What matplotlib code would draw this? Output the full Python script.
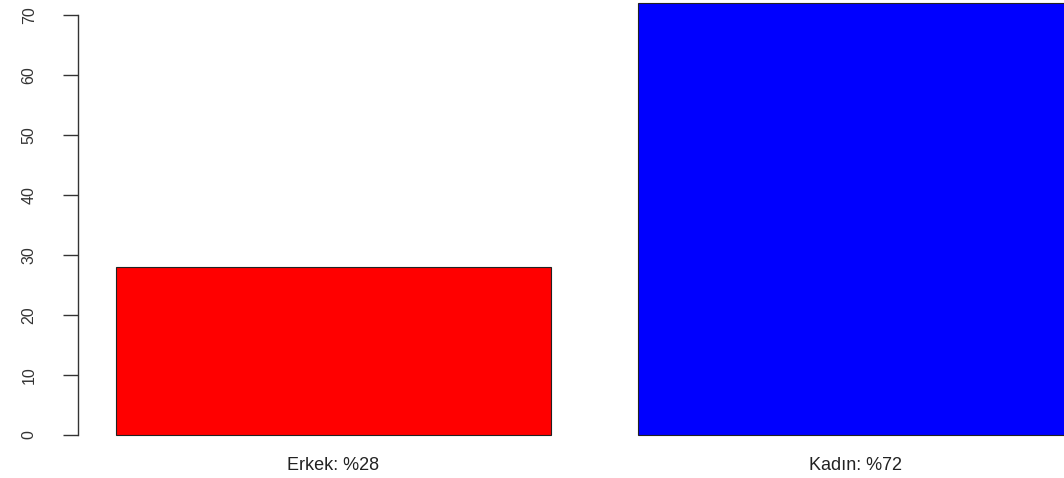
import matplotlib.pyplot as plt

# bar data (R barplot style)
labels = ["Erkek: %28", "Kadın: %72"]
values = [28, 72]
colors = ["#ff0000", "#0000ff"]
yticks = [0, 10, 20, 30, 40, 50, 60, 70]

W, H = 1064, 478
fig = plt.figure(figsize=(W / 100, H / 100), dpi=100)
plt.rcParams['font.family'] = ['Liberation Sans', 'DejaVu Sans']

# plot region in pixels (it runs past the right and top of the image)
left_px, right_px = 77.7, 1111
bottom_px, top_px = 452.3, -14.3
ax = fig.add_axes([left_px / W, (H - bottom_px) / H,
                   (right_px - left_px) / W, (bottom_px - top_px) / H])

# width 1, space 0.2 like barplot()
pos = [0.2 + 1.2 * i + 0.5 for i in range(len(values))]
ax.bar(pos, values, width=1.0, color=colors, edgecolor="#222222", linewidth=0.8)

ax.set_xlim(0.112, 2.488)
ax.set_ylim(-2.88, 74.88)

for s in ["top", "right", "bottom"]:
    ax.spines[s].set_visible(False)
ax.spines["left"].set_bounds(0, 70)
ax.spines["left"].set_color("#333333")
ax.spines["left"].set_linewidth(1.0)

ax.set_yticks(yticks)
ax.set_yticklabels([str(t) for t in yticks], rotation=90, va="center",
                   fontsize=11.5, color="#333333")
ax.tick_params(axis="y", length=10.5, width=1.0, color="#333333", pad=19)
ax.set_xticks([])

for p, lab in zip(pos, labels):
    ax.text(p, -5.0, lab, ha="center", va="center", fontsize=13,
            color="#222222", clip_on=False)

fig.savefig("out.png", dpi=100)
